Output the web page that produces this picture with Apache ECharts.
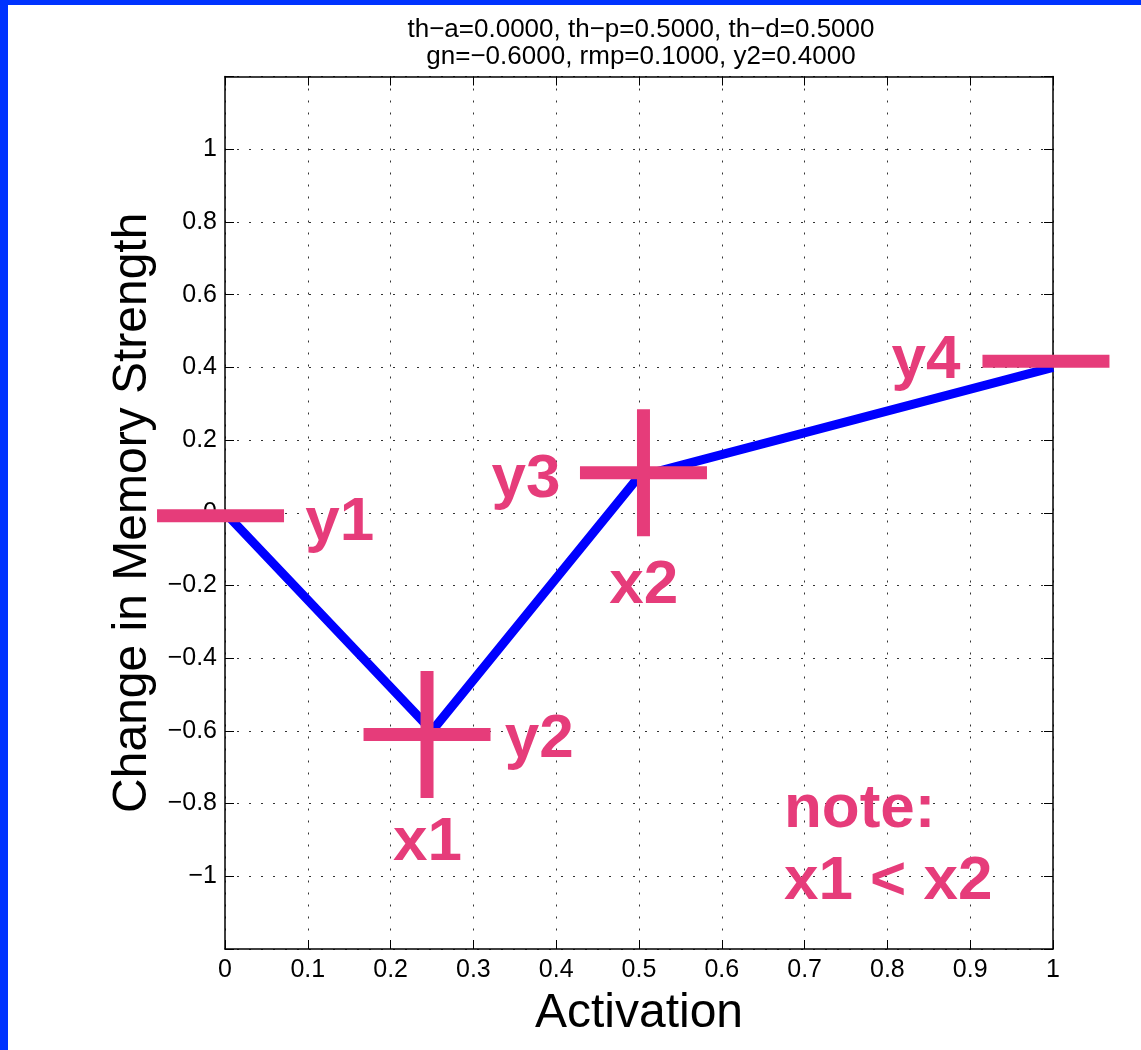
<!DOCTYPE html>
<html>
<head>
<meta charset="utf-8">
<script src="https://cdn.jsdelivr.net/npm/echarts@6/dist/echarts.min.js"></script>
<style>html,body{margin:0;padding:0;background:#fff}#main{width:1141px;height:1050px}</style>
</head>
<body>
<div id="main"></div>
<script>
// ---- data ----
const activation = [0, 0.25, 0.5, 1];
const strengthChange = [0, -0.6, 0.1, 0.4];
const titleLines = ['th\u2212a=0.0000, th\u2212p=0.5000, th\u2212d=0.5000', 'gn=\u22120.6000, rmp=0.1000, y2=0.4000'];
const crossMarks = [[0.244, -0.61], [0.5054, 0.11]];
const dashMarks = [[-0.0054, -0.0082], [0.9915, 0.4168]];
const annotationText = ['y1', 'y2', 'x1', 'y3', 'x2', 'y4', 'note:', 'x1 < x2'];
const annotationX = [0.097, 0.338, 0.203, 0.322, 0.464, 0.805, 0.675, 0.675];
const annotationY = [-0.028, -0.624, -0.909, 0.091, -0.2005, 0.418, -0.818, -1.016];
const xLabel = 'Activation';
const yLabel = 'Change in Memory Strength';

const FONT = '"Liberation Sans", Arial, Helvetica, sans-serif';
const PINK = '#e63c7a';
const chart = echarts.init(document.getElementById('main'));

const fmt = v => {
  if (Math.abs(Math.abs(v) - 1.2) < 1e-9) return '';
  return String(Math.round(v * 10) / 10).replace('-', '\u2212');
};
const axisLine = {show: true, onZero: false, lineStyle: {color: '#000', width: 1.5}};
const axisTick = {show: true, inside: true, length: 9, lineStyle: {color: '#000', width: 1}};
const gridLine = {show: true, lineStyle: {type: [2, 10], color: '#333', width: 1}};

const option = {
  animation: false,
  backgroundColor: '#fff',
  graphic: [
    {type: 'rect', shape: {x: 0, y: 0, width: 8, height: 1050}, style: {fill: '#0033ff'}, z: 100},
    {type: 'rect', shape: {x: 0, y: 0, width: 1141, height: 5}, style: {fill: '#0033ff'}, z: 100}
  ],
  title: {
    text: titleLines.join('\n'), left: 636, top: 11, textAlign: 'center',
    textStyle: {fontFamily: FONT, fontSize: 26, fontWeight: 'normal', color: '#000', lineHeight: 27}
  },
  grid: {left: 225, top: 76.5, width: 828, height: 872.5},
  xAxis: [
    {type: 'value', min: 0, max: 1, interval: 0.1, position: 'bottom',
     axisLine, axisTick,
     axisLabel: {formatter: fmt, fontSize: 25, color: '#000', margin: 9, fontFamily: FONT},
     splitLine: gridLine,
     name: xLabel, nameLocation: 'middle', nameGap: 41,
     nameTextStyle: {fontSize: 48, fontFamily: FONT, color: '#000'}},
    {type: 'value', min: 0, max: 1, interval: 0.1, position: 'top',
     axisLine, axisTick, axisLabel: {show: false}, splitLine: {show: false}}
  ],
  yAxis: [
    {type: 'value', min: -1.2, max: 1.2, interval: 0.2, position: 'left',
     axisLine, axisTick,
     axisLabel: {formatter: fmt, fontSize: 25, color: '#000', margin: 8, fontFamily: FONT},
     splitLine: gridLine,
     name: yLabel, nameLocation: 'middle', nameGap: 66, nameRotate: 90,
     nameTextStyle: {fontSize: 48, fontFamily: FONT, color: '#000'}},
    {type: 'value', min: -1.2, max: 1.2, interval: 0.2, position: 'right',
     axisLine, axisTick, axisLabel: {show: false}, splitLine: {show: false}}
  ],
  series: [
    {type: 'line', data: activation.map((x, i) => [x, strengthChange[i]]),
     showSymbol: false, symbol: 'none', z: 3,
     lineStyle: {color: '#0000ff', width: 9, join: 'round'}},
    {type: 'scatter', data: crossMarks, clip: false, z: 4,
     symbol: 'path://M0,57H127V70H0Z M57,0H70V127H57Z', symbolSize: [127, 127],
     itemStyle: {color: PINK, opacity: 1}},
    {type: 'scatter', data: dashMarks, clip: false, z: 4,
     symbol: 'rect', symbolSize: [127, 13], itemStyle: {color: PINK, opacity: 1}},
    {type: 'scatter', clip: false, z: 5, symbolSize: 0, silent: true,
     data: annotationText.map((t, i) => ({name: t, value: [annotationX[i], annotationY[i]]})),
     itemStyle: {color: 'rgba(0,0,0,0)', opacity: 1},
     label: {show: true, formatter: '{b}', position: [0, 0], align: 'left', verticalAlign: 'middle',
             fontFamily: FONT, fontWeight: 'bold', fontSize: 62, color: PINK, opacity: 1}}
  ]
};
chart.setOption(option);
</script>
</body>
</html>
